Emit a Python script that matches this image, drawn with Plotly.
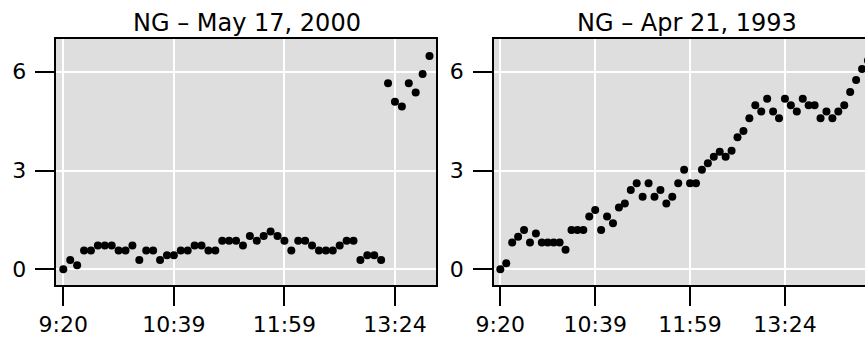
import plotly.graph_objects as go

# ---- data ----
tick_labels = ["9:20", "10:39", "11:59", "13:24"]
tick_index = [0, 16, 32, 48]
y_ticks = [0, 3, 6]

title_1 = "NG \u2013 May 17, 2000"
title_2 = "NG \u2013 Apr 21, 1993"

ng_2000 = [0, 0.28, 0.12, 0.57, 0.57, 0.72, 0.72, 0.72, 0.57, 0.57,
           0.72, 0.28, 0.57, 0.57, 0.28, 0.43, 0.43, 0.57, 0.57, 0.72,
           0.72, 0.57, 0.57, 0.87, 0.87, 0.87, 0.72, 1.01, 0.87, 1.01,
           1.15, 1.01, 0.87, 0.57, 0.87, 0.87, 0.72, 0.57, 0.57, 0.57,
           0.72, 0.87, 0.87, 0.28, 0.43, 0.43, 0.28, 5.65, 5.09, 4.94,
           5.65, 5.37, 5.93, 6.48]

ng_1993 = [0, 0.18, 0.81, 0.99, 1.19, 0.81, 1.09, 0.81, 0.81, 0.81,
           0.81, 0.59, 1.19, 1.19, 1.19, 1.6, 1.8, 1.19, 1.6, 1.4,
           1.88, 2.0, 2.41, 2.61, 2.2, 2.61, 2.2, 2.41, 2.0, 2.2,
           2.61, 3.02, 2.61, 2.61, 3.02, 3.22, 3.42, 3.57, 3.42, 3.6,
           4.01, 4.2, 4.59, 4.98, 4.79, 5.18, 4.79, 4.59, 5.18, 4.98,
           4.79, 5.18, 4.98, 4.98, 4.59, 4.79, 4.59, 4.79, 4.98, 5.38,
           5.75, 6.08, 6.34]

W, H = 865, 342
FONT = "DejaVu Sans"
PANEL_BG = "#DEDEDE"
GAP = "\u2009"

fig = go.Figure()
fig.add_trace(go.Scatter(x=list(range(len(ng_2000))), y=ng_2000, mode="markers",
                         marker=dict(color="black", size=8, line=dict(width=0)),
                         xaxis="x", yaxis="y", showlegend=False))
fig.add_trace(go.Scatter(x=list(range(len(ng_1993))), y=ng_1993, mode="markers",
                         marker=dict(color="black", size=8, line=dict(width=0)),
                         xaxis="x2", yaxis="y2", showlegend=False))

common_x = dict(tickmode="array", tickvals=tick_index, ticktext=tick_labels,
                ticks="outside", ticklen=19, tickwidth=2, tickcolor="black",
                showgrid=True, gridcolor="white", gridwidth=2,
                showline=True, linecolor="black", linewidth=2,
                zeroline=False, automargin=False,
                tickfont=dict(family=FONT, size=22, color="black"))
common_y = dict(tickmode="array", tickvals=y_ticks,
                ticktext=[f"{v}{GAP}" for v in y_ticks],
                ticks="outside", ticklen=19, tickwidth=2, tickcolor="black",
                showgrid=True, gridcolor="white", gridwidth=2,
                showline=True, linecolor="black", linewidth=2,
                zeroline=False, automargin=False, range=[-0.477, 6.993],
                tickfont=dict(family=FONT, size=22, color="black"))

fig.update_layout(
    width=W, height=H,
    margin=dict(l=0, r=0, t=39, b=57, pad=0),
    paper_bgcolor="white", plot_bgcolor=PANEL_BG,
    xaxis=dict(common_x, domain=[56 / W, 436 / W], range=[-1.06, 53.94],
               mirror=True, anchor="y"),
    yaxis=dict(common_y, domain=[0, 1], mirror=True, anchor="x"),
    xaxis2=dict(common_x, domain=[493.5 / W, 1.0], range=[-1.15, 61.5],
                mirror=True, anchor="y2"),
    yaxis2=dict(common_y, domain=[0, 1], mirror=False, anchor="x2"),
    annotations=[
        dict(text=title_1, x=246.5 / W, y=1, xref="paper", yref="paper",
             xanchor="center", yanchor="bottom", yshift=0, showarrow=False,
             font=dict(family=FONT, size=24, color="black")),
        dict(text=title_2, x=686.7 / W, y=1, xref="paper", yref="paper",
             xanchor="center", yanchor="bottom", yshift=0, showarrow=False,
             font=dict(family=FONT, size=24, color="black")),
    ],
)

fig.write_html("out.html")
